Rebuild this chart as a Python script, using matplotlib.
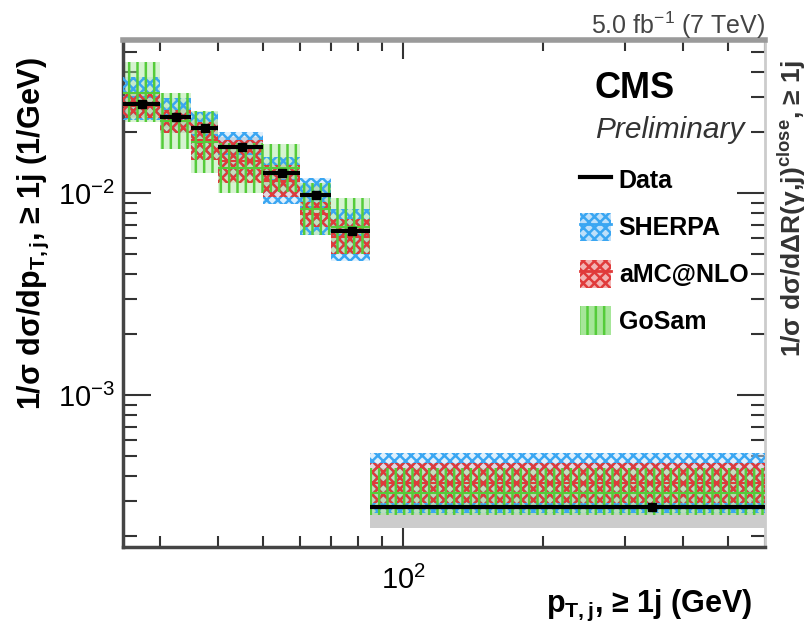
import numpy as np
import matplotlib.pyplot as plt
from matplotlib.patches import Patch
from matplotlib.lines import Line2D
from matplotlib.ticker import LogLocator, NullFormatter

plt.rcParams['font.family'] = ['Liberation Sans', 'DejaVu Sans']
plt.rcParams['mathtext.fontset'] = 'custom'
plt.rcParams['mathtext.rm'] = 'Liberation Sans'
plt.rcParams['mathtext.it'] = 'Liberation Sans:italic'
plt.rcParams['mathtext.bf'] = 'Liberation Sans:bold'
plt.rcParams['hatch.linewidth'] = 1.8

# bin edges in GeV
edges = [25, 30, 35, 40, 50, 60, 70, 85, 600]
x_data = [27.5, 32.5, 37.5, 45, 55, 65, 77.5, 342.5]
data = [0.0276, 0.0239, 0.0211, 0.0170, 0.0126, 0.0098, 0.0065, 2.8e-4]
data_err = [0.0010, 0.0008, 0.0007, 0.0006, 0.0005, 0.0004, 0.0003, 0.1e-4]
syst_lo = [0.0240, 0.0210, 0.0185, 0.0150, 0.0110, 0.0086, 0.0057, 2.2e-4]
syst_hi = [0.0312, 0.0268, 0.0237, 0.0190, 0.0142, 0.0110, 0.0073, 3.4e-4]

sherpa_lo = [0.0231, 0.0199, 0.0146, 0.0121, 0.0089, 0.0062, 0.0046, 2.61e-4]
sherpa_hi = [0.0377, 0.0296, 0.0254, 0.0202, 0.0152, 0.0119, 0.0084, 5.2e-4]
sherpa_c = [0.0300, 0.0245, 0.0195, 0.0157, 0.0117, 0.0086, 0.0062, 3.7e-4]

amc_lo = [0.0236, 0.0199, 0.0146, 0.0113, 0.0096, 0.0068, 0.0050, 2.93e-4]
amc_hi = [0.0315, 0.0258, 0.0226, 0.0184, 0.0138, 0.0091, 0.0075, 4.6e-4]
amc_c = [0.0272, 0.0227, 0.0183, 0.0144, 0.0115, 0.0079, 0.0061, 3.7e-4]

gosam_lo = [0.0225, 0.0165, 0.0126, 0.0100, 0.0102, 0.0062, 0.0050, 2.55e-4]
gosam_hi = [0.0447, 0.0315, 0.0255, 0.0178, 0.0175, 0.0113, 0.0095, 4.37e-4]
gosam_c = [0.0315, 0.0228, 0.0180, 0.0133, 0.0133, 0.0084, 0.0068, 3.27e-4]

blue = '#3aa6f2'
red = '#e03a3a'
green = '#55cc3a'

fig = plt.figure(figsize=(8.09, 6.33), dpi=100)
ax = fig.add_axes([0.152, 0.1363, 0.7936, 0.8005])
ax.set_xscale('log')
ax.set_yscale('log')

left = np.array(edges[:-1])
width = np.diff(edges)

# data uncertainty band
ax.bar(left, np.array(syst_hi) - np.array(syst_lo), bottom=syst_lo, width=width,
       align='edge', color='#cccccc', lw=0, zorder=1)


def band(lo, hi, c, col, face, hatch, line=True):
    lo = np.array(lo)
    hi = np.array(hi)
    ax.bar(left, hi - lo, bottom=lo, width=width, align='edge',
           facecolor=face, edgecolor='none', lw=0, zorder=2)
    ax.bar(left, hi - lo, bottom=lo, width=width, align='edge',
           facecolor='none', edgecolor=col, hatch=hatch, lw=0, zorder=3)
    if line:
        ax.hlines(c, left, edges[1:], color=col, lw=1.5, zorder=3)


band(sherpa_lo, sherpa_hi, sherpa_c, blue, (0.75, 0.88, 0.98, 0.5), 'xxx')
band(amc_lo, amc_hi, amc_c, red, (0.95, 0.7, 0.7, 0.4), 'xxx')
band(gosam_lo, gosam_hi, gosam_c, green, (0.65, 0.9, 0.6, 0.45), '||')

# data
ax.hlines(data, left, edges[1:], color='black', lw=3, zorder=5)
ax.errorbar(x_data, data, yerr=data_err, fmt='s', color='black', ms=6,
            elinewidth=2, capsize=0, zorder=6)

ax.set_xlim(25, 600)
ax.set_ylim(1.78e-4, 0.0574)

ax.xaxis.set_minor_formatter(NullFormatter())
ax.yaxis.set_minor_formatter(NullFormatter())
ax.yaxis.set_minor_locator(LogLocator(subs=np.arange(2, 10)))
ax.tick_params(which='both', direction='in', top=True, right=True,
               color='#333333', width=1.5)
ax.tick_params(axis='y', which='major', length=20, pad=6, labelsize=21)
ax.tick_params(axis='y', which='minor', length=10)
ax.tick_params(axis='x', which='major', length=14, pad=14, labelsize=21)
ax.tick_params(axis='x', which='minor', length=8)

for s in ['left', 'bottom']:
    ax.spines[s].set_linewidth(2.5)
    ax.spines[s].set_color('#444444')
ax.spines['top'].set_linewidth(4)
ax.spines['top'].set_color('#9a9a9a')
ax.spines['right'].set_linewidth(2)
ax.spines['right'].set_color('#cccccc')

fig.text(33 / 809, 1 - 57 / 633, r'1/σ dσ/dp$_{\mathbf{T,j}}$, ≥ 1j (1/GeV)',
         rotation=90, ha='center', va='top', fontsize=22, fontweight='bold')
fig.text(752 / 809, 1 - 605 / 633, r'p$_{\mathbf{T,j}}$, ≥ 1j (GeV)',
         ha='right', va='center', fontsize=22, fontweight='bold')
fig.text(765 / 809, 1 - 25 / 633, r'5.0 fb$^{-1}$ (7 TeV)',
         ha='right', va='center', fontsize=18, color='#444444')
fig.text(595 / 809, 1 - 88 / 633, 'CMS', ha='left', va='center',
         fontsize=26, fontweight='bold')
fig.text(595 / 809, 1 - 130 / 633, 'Preliminary', ha='left', va='center',
         fontsize=21.5, style='italic', color='#333333')
fig.text(792 / 809, 1 - 357 / 633, r'1/σ dσ/dΔR(γ,j)$^{\mathbf{close}}$, ≥ 1j',
         rotation=90, ha='center', va='bottom', fontsize=19, fontweight='bold',
         color='#333333')

handles = [
    Line2D([], [], color='black', lw=3),
    (Patch(facecolor=(0.75, 0.88, 0.98), edgecolor=blue, hatch='xxx', lw=0),
     Line2D([], [], color=blue, lw=2)),
    (Patch(facecolor=(0.95, 0.7, 0.7), edgecolor=red, hatch='xxx', lw=0),
     Line2D([], [], color=red, lw=2)),
    Patch(facecolor=(0.65, 0.9, 0.6), edgecolor=green, hatch='||', lw=0),
]
labels = ['Data', 'SHERPA', 'aMC@NLO', 'GoSam']
fig.legend(handles, labels, loc='upper left',
           bbox_to_anchor=(580 / 809, 1 - 166 / 633), frameon=False,
           prop={'weight': 'bold', 'size': 18},
           handlelength=1.25, handleheight=1.35, handletextpad=0.3,
           labelspacing=0.75, borderpad=0, borderaxespad=0)

fig.savefig('out.png', dpi=100)
